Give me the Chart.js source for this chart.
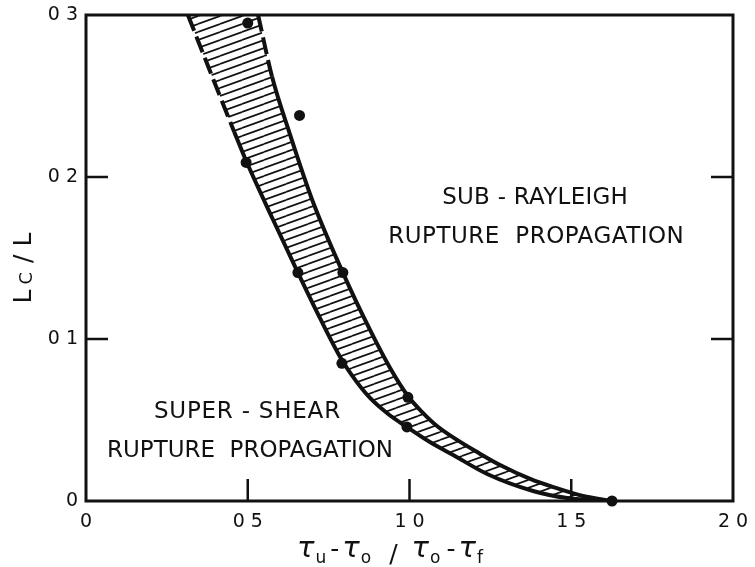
<!DOCTYPE html>
<html>
<head>
<meta charset="utf-8">
<script src="https://cdn.jsdelivr.net/npm/chart.js@4.4.0/dist/chart.umd.min.js"></script>
<style>
  html, body { margin: 0; padding: 0; background: #fff; }
  #wrap { width: 755px; height: 567px; }
</style>
</head>
<body>
<div id="wrap"><canvas id="rupture" width="755" height="567"></canvas></div>
<script>
// lower (left) edge of the transition band
const lowerX = [0.315, 0.386, 0.458, 0.495, 0.575, 0.655, 0.723, 0.791, 0.835, 0.878, 0.934, 0.992, 1.063, 1.135, 1.240, 1.382, 1.487, 1.626];
const lowerY = [0.300, 0.264, 0.228, 0.210, 0.175, 0.141, 0.113, 0.087, 0.074, 0.0636, 0.0537, 0.0457, 0.0364, 0.0284, 0.0167, 0.0062, 0.0019, 0];

// upper (right) edge of the transition band
const upperX = [0.532, 0.575, 0.631, 0.699, 0.794, 0.878, 0.940, 0.995, 1.039, 1.085, 1.147, 1.209, 1.280, 1.373, 1.444, 1.536, 1.626];
const upperY = [0.300, 0.262, 0.226, 0.186, 0.141, 0.1056, 0.0821, 0.0648, 0.0549, 0.0463, 0.0377, 0.0302, 0.0222, 0.0136, 0.0086, 0.0031, 0];

// computed cases
const caseX = [0.5, 0.66, 0.495, 0.655, 0.794, 0.791, 0.995, 0.992, 1.626];
const caseY = [0.295, 0.238, 0.209, 0.141, 0.141, 0.085, 0.064, 0.0457, 0];

const xTicks = [0, 0.5, 1.0, 1.5, 2.0];
const xTickLabels = ['0', '0 5', '1 0', '1 5', '2 0'];
const yTicks = [0, 0.1, 0.2, 0.3];
const yTickLabels = ['0', '0 1', '0 2', '0 3'];

const toPts = (xs, ys) => xs.map((x, i) => ({ x: x, y: ys[i] }));
const lowerPts = toPts(lowerX, lowerY);
const upperPts = toPts(upperX, upperY);
// closed outline: down the lower edge, back up the upper edge
const bandPts = lowerPts.concat(upperPts.slice(0, -1).reverse());

const canvas = document.getElementById('rupture');
const ctx0 = canvas.getContext('2d');

// diagonal hatching for the band
const hatch = (function () {
  const w = 22, h = 8;
  const c = document.createElement('canvas');
  c.width = w; c.height = h;
  const g = c.getContext('2d');
  g.strokeStyle = '#111';
  g.lineWidth = 1.7;
  [-1, 0, 1].forEach(k => {
    g.beginPath();
    g.moveTo(0, h + k * h);
    g.lineTo(w, k * h);
    g.stroke();
  });
  return ctx0.createPattern(c, 'repeat');
})();

const ink = '#111';
const lettering = '"DejaVu Sans", "Liberation Sans", sans-serif';

function fitText(ctx, str, cx, cy, w) {
  ctx.letterSpacing = '0px';
  const nat = ctx.measureText(str).width;
  if (nat < w) {
    const sp = (w - nat) / str.length;
    ctx.letterSpacing = sp + 'px';
    ctx.fillText(str, cx + sp / 2, cy);
  } else {
    ctx.fillText(str, cx, cy, w);
  }
  ctx.letterSpacing = '0px';
}

// draws a row of text pieces (text, font, gap before, baseline shift) centred on cx
function drawPieces(ctx, pieces, cx, baseY) {
  let total = 0;
  pieces.forEach(p => { ctx.font = p[1]; total += p[2] + ctx.measureText(p[0]).width; });
  let xPos = cx - total / 2;
  ctx.textAlign = 'left';
  ctx.textBaseline = 'alphabetic';
  pieces.forEach(p => {
    ctx.font = p[1];
    xPos += p[2];
    ctx.fillText(p[0], xPos, baseY + p[3]);
    xPos += ctx.measureText(p[0]).width;
  });
}

const frame = {
  id: 'frame',
  afterDatasetsDraw(chart) {
    const { ctx, chartArea: a, scales } = chart;
    const x = scales.x, y = scales.y;
    ctx.save();
    ctx.strokeStyle = ink;
    ctx.lineWidth = 3;
    ctx.strokeRect(a.left, a.top, a.right - a.left, a.bottom - a.top);

    // inward ticks
    ctx.lineWidth = 2.5;
    ctx.beginPath();
    yTicks.slice(1, -1).forEach(v => {
      const py = y.getPixelForValue(v);
      ctx.moveTo(a.left, py); ctx.lineTo(a.left + 22, py);
      ctx.moveTo(a.right, py); ctx.lineTo(a.right - 22, py);
    });
    xTicks.slice(1, -1).forEach(v => {
      const px = x.getPixelForValue(v);
      ctx.moveTo(px, a.bottom); ctx.lineTo(px, a.bottom - 22);
    });
    ctx.stroke();
    ctx.restore();
  },
  afterDraw(chart) {
    const { ctx } = chart;
    ctx.save();
    ctx.fillStyle = ink;

    // region labels
    ctx.font = '23px ' + lettering;
    ctx.textAlign = 'center';
    ctx.textBaseline = 'middle';
    fitText(ctx, 'SUB - RAYLEIGH', 535, 198, 186);
    fitText(ctx, 'RUPTURE  PROPAGATION', 536, 237, 296);
    fitText(ctx, 'SUPER - SHEAR', 247, 412, 187);
    fitText(ctx, 'RUPTURE  PROPAGATION', 250, 451, 286);

    // x axis title
    const big = 'italic 29px ' + lettering;
    const sub = '17px ' + lettering;
    const mid = '25px ' + lettering;
    drawPieces(ctx, [
      ['τ', big, 0, 0], ['u', sub, 1, 6], ['-', mid, 4, 0],
      ['τ', big, 3, 0], ['o', sub, 1, 6], ['/', mid, 18, 5],
      ['τ', big, 14, 0], ['o', sub, 1, 6], ['-', mid, 6, 0],
      ['τ', big, 3, 0], ['f', sub, 1, 6]
    ], 390, 557);

    // y axis title, rotated
    ctx.translate(31, 268);
    ctx.rotate(-Math.PI / 2);
    const cap = '25px ' + lettering;
    drawPieces(ctx, [
      ['L', cap, 0, 0], ['C', '18px ' + lettering, 5, 1],
      ['/', cap, 9, 0], ['L', cap, 8, 0]
    ], 0, 0);
    ctx.restore();
  }
};

const labelFor = (vals, labels) => v => {
  const i = vals.findIndex(t => Math.abs(t - v) < 1e-6);
  return i >= 0 ? labels[i] : '';
};

new Chart(canvas, {
  type: 'line',
  data: {
    datasets: [
      {
        data: bandPts,
        borderColor: 'transparent',
        borderWidth: 0,
        pointRadius: 0,
        backgroundColor: hatch,
        fill: 'shape',
        cubicInterpolationMode: 'monotone',
        order: 3
      },
      {
        data: lowerPts,
        borderColor: ink,
        borderWidth: 4,
        pointRadius: 0,
        fill: false,
        cubicInterpolationMode: 'monotone',
        segment: { borderDash: c => c.p0DataIndex < 2 ? [17, 6] : undefined },
        order: 2
      },
      {
        data: upperPts,
        borderColor: ink,
        borderWidth: 4,
        pointRadius: 0,
        fill: false,
        cubicInterpolationMode: 'monotone',
        segment: { borderDash: c => c.p0DataIndex < 1 ? [17, 6] : undefined },
        order: 2
      },
      {
        data: toPts(caseX, caseY),
        showLine: false,
        pointRadius: 5.5,
        pointBackgroundColor: ink,
        pointBorderWidth: 0,
        clip: false,
        order: 1
      }
    ]
  },
  options: {
    responsive: false,
    animation: false,
    devicePixelRatio: 1,
    layout: { padding: { top: 15, right: 22, left: 0, bottom: 0 } },
    plugins: { legend: { display: false }, tooltip: { enabled: false } },
    scales: {
      x: {
        type: 'linear',
        min: 0,
        max: 2,
        afterBuildTicks: s => { s.ticks = xTicks.map(v => ({ value: v })); },
        afterFit: s => { s.height = 66; s.paddingLeft = 0; s.paddingRight = 0; },
        grid: { display: false, drawTicks: false },
        border: { display: false },
        ticks: {
          callback: labelFor(xTicks, xTickLabels),
          font: { family: lettering, size: 19 },
          color: ink,
          padding: 10,
          maxRotation: 0,
          autoSkip: false
        }
      },
      y: {
        type: 'linear',
        min: 0,
        max: 0.3,
        afterBuildTicks: s => { s.ticks = yTicks.map(v => ({ value: v })); },
        afterFit: s => { s.width = 86; s.paddingTop = 0; s.paddingBottom = 0; },
        grid: { display: false, drawTicks: false },
        border: { display: false },
        ticks: {
          callback: labelFor(yTicks, yTickLabels),
          font: { family: lettering, size: 19 },
          color: ink,
          padding: 8,
          autoSkip: false
        }
      }
    }
  },
  plugins: [frame]
});
</script>
</body>
</html>
